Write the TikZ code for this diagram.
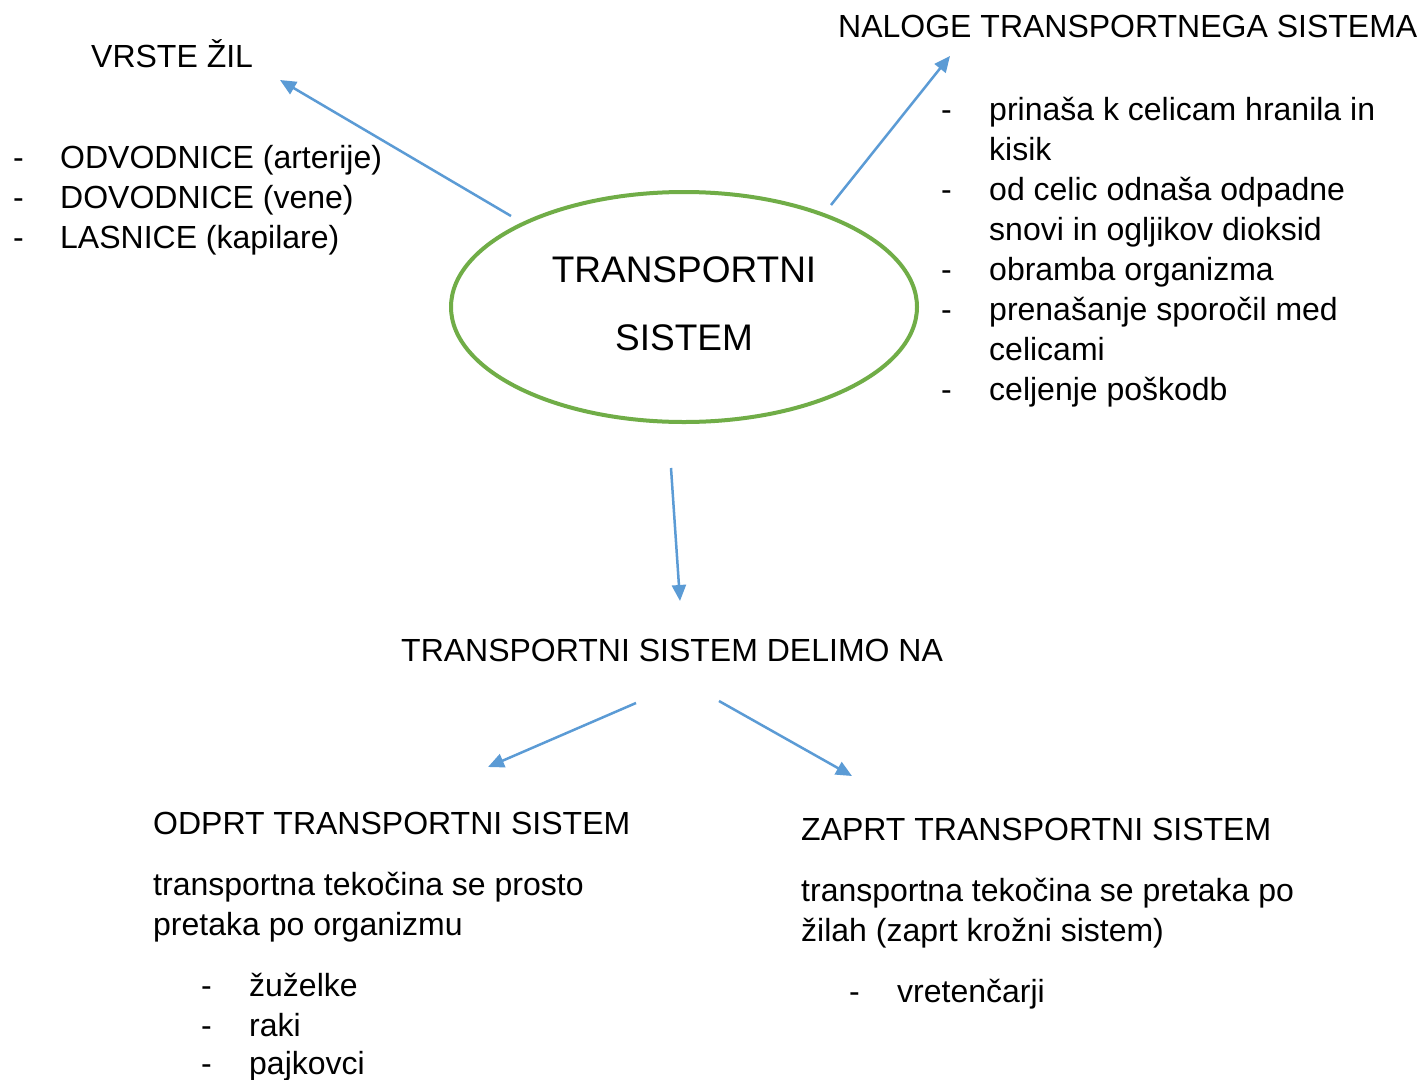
\documentclass[tikz,border=0pt]{standalone}
\usepackage{fontspec}
\setmainfont{Liberation Sans}
\usetikzlibrary{arrows.meta}
\definecolor{arrowblue}{HTML}{5B9BD5}
\definecolor{ellgreen}{HTML}{70AD47}
\begin{document}
\begin{tikzpicture}[x=1pt,y=-1pt,
  txt/.style={anchor=base west,inner sep=0pt,font=\fontsize{32}{40}\selectfont},
  big/.style={anchor=base,inner sep=0pt,font=\fontsize{37}{44}\selectfont},
  conn/.style={draw=arrowblue,line width=2.5pt,-{Triangle[length=16pt,width=14pt]}}]
\useasboundingbox[fill=white] (0,0) rectangle (1424,1079);
% ellipse
\draw[ellgreen,line width=4pt] (684,307) ellipse [x radius=233, y radius=115];
\node[big] (t1) at (684,282) {TRANSPORTNI};
\node[big] (t2) at (684,350) {SISTEM};
% top left
\node[txt] (vrste) at (91,67) {VRSTE ŽIL};
\foreach \y/\t [count=\i] in {168/ODVODNICE (arterije),208/DOVODNICE (vene),248/LASNICE (kapilare)}{
  \node[txt] (ld\i) at (13,\y) {-};
  \node[txt] (l\i) at (60,\y) {\t};
}
% top right
\node[txt] (naloge) at (838,37) {NALOGE TRANSPORTNEGA SISTEMA};
\foreach \y/\t [count=\i] in {120/prinaša k celicam hranila in,160/kisik,200/od celic odnaša odpadne,240/snovi in ogljikov dioksid,280/obramba organizma,320/prenašanje sporočil med,360/celicami,400/celjenje poškodb}{
  \node[txt] (r\i) at (989,\y) {\t};
}
\foreach \y [count=\i] in {120,200,280,320,400}{
  \node[txt] (rd\i) at (941,\y) {-};
}
% middle
\node[txt] (delimo) at (401,661) {TRANSPORTNI SISTEM DELIMO NA};
% bottom left
\node[txt] (odprt) at (153,834) {ODPRT TRANSPORTNI SISTEM};
\node[txt] (o1) at (153,895) {transportna tekočina se prosto};
\node[txt] (o2) at (153,935) {pretaka po organizmu};
\foreach \y/\t [count=\i] in {996/žuželke,1036/raki,1074/pajkovci}{
  \node[txt] (od\i) at (201,\y) {-};
  \node[txt] (ob\i) at (249,\y) {\t};
}
% bottom right
\node[txt] (zaprt) at (801,840) {ZAPRT TRANSPORTNI SISTEM};
\node[txt] (z1) at (801,901) {transportna tekočina se pretaka po};
\node[txt] (z2) at (801,941) {žilah (zaprt krožni sistem)};
\node[txt] (zd1) at (849,1002) {-};
\node[txt] (zb1) at (897,1002) {vretenčarji};
% connector endpoints
\coordinate (a1s) at (511,216); \coordinate (a1e) at (280,80);
\coordinate (a2s) at (831,205); \coordinate (a2e) at (950,56);
\coordinate (a3s) at (671,468); \coordinate (a3e) at (680,601);
\coordinate (a4s) at (636,703); \coordinate (a4e) at (488,767);
\coordinate (a5s) at (719,701); \coordinate (a5e) at (852,776);
\draw[conn] (a1s) -- (a1e);
\draw[conn] (a2s) -- (a2e);
\draw[conn] (a3s) -- (a3e);
\draw[conn] (a4s) -- (a4e);
\draw[conn] (a5s) -- (a5e);
\end{tikzpicture}
\end{document}
